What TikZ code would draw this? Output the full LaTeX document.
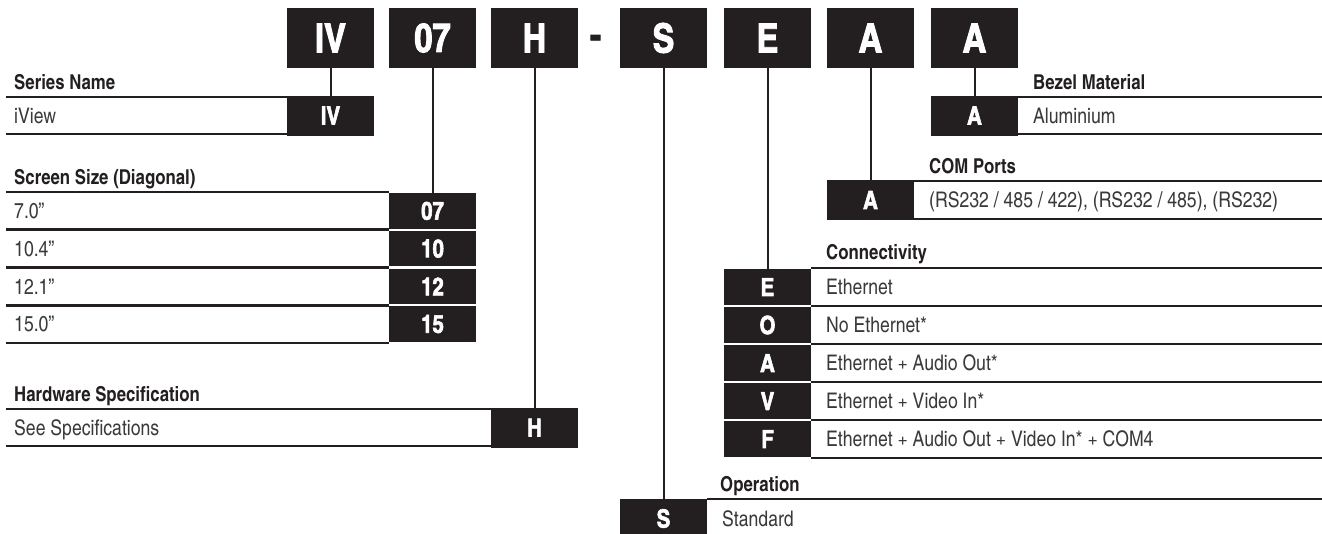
\documentclass[tikz,border=0pt]{standalone}
\usepackage{fontspec}
\setmainfont{texgyreheroscn}[Extension=.otf,UprightFont=*-regular,BoldFont=*-bold]
\newfontfamily\codefamily{texgyreheroscn-bold.otf}[FakeBold=2.2]
\usetikzlibrary{positioning}

\definecolor{ink}{HTML}{231F20}
\definecolor{entrygrey}{HTML}{3A3A3A}
\newcommand{\bigcode}{\fontsize{40}{40}\selectfont\codefamily}
\newcommand{\smallcode}{\fontsize{25}{25}\selectfont\codefamily}
\newcommand{\hdfont}{\fontsize{20.5}{20.5}\selectfont\bfseries}
\newcommand{\entryfont}{\fontsize{21.5}{21.5}\selectfont}

\begin{document}
\begin{tikzpicture}[x=1pt,y=-1pt,node distance=15pt,
    topbox/.style={fill=ink,text=white,font=\bigcode,minimum width=87pt,minimum height=60pt,inner sep=0pt,outer sep=0pt},
    codebox/.style={fill=ink,text=white,font=\smallcode,minimum width=87pt,minimum height=35.5pt,inner sep=0pt,outer sep=0pt},
    heading/.style={font=\hdfont,text=ink,inner sep=0pt,text height=14.7pt,text depth=0pt,anchor=west},
    entry/.style={font=\entryfont,text=entrygrey,inner sep=0pt,text height=15.4pt,text depth=0pt,anchor=west},
    rule/.style={draw=ink,line width=2.6pt},
    link/.style={draw=ink,line width=2pt}]
	\useasboundingbox (0,0) rectangle (1322,533);

	% the order code
	\node[topbox] (t_iv) at (330.5,38) {IV};
	\node[topbox] [right=of t_iv] (t_07) {07};
	\node[topbox] [right=of t_07] (t_h) {H};
	\node[font=\bigcode,text=ink,inner sep=0pt] (t_dash) at (595.5,42) {-};
	\node[topbox] (t_s) at (663.5,38) {S};
	\node[topbox] [right=17pt of t_s] (t_e) {E};
	\node[topbox] [right=16pt of t_e] (t_a) {A};
	\node[topbox] [right=17pt of t_a] (t_b) {A};

	% left side
	\node[heading] (h_series) at (14,82) {Series Name};
	\node[codebox,minimum height=40pt] (c_iv) at (t_iv |- 0,115.5) {IV};
	\node[entry] (e_iview) at (14,115.5) {iView};

	\node[heading] (h_screen) at (14,177) {Screen Size (Diagonal)};
	\node[codebox] (c_07) at (t_07 |- 0,210.9) {07};
	\node[codebox] (c_10) at (t_07 |- 0,248.6) {10};
	\node[codebox] (c_12) at (t_07 |- 0,286.4) {12};
	\node[codebox] (c_15) at (t_07 |- 0,324.1) {15};
	\node[entry] (e_07) at (14,210.9) {7.0”};
	\node[entry] (e_10) at (14,248.6) {10.4”};
	\node[entry] (e_12) at (14,286.4) {12.1”};
	\node[entry] (e_15) at (14,324.1) {15.0”};

	\node[heading] (h_hw) at (14,394) {Hardware Specification};
	\node[codebox,minimum height=40pt] (c_h) at (t_h |- 0,427.5) {H};
	\node[entry] (e_spec) at (14,427.5) {See Specifications};

	% right side
	\node[heading] (h_bezel) at (1033,82) {Bezel Material};
	\node[codebox,minimum height=40pt] (c_bz) at (t_b |- 0,115.5) {A};
	\node[entry] [right=of c_bz] (e_alu) {Aluminium};

	\node[heading] (h_com) at (929,166) {COM Ports};
	\node[codebox,minimum height=40pt] (c_com) at (t_a |- 0,200) {A};
	\node[entry] [right=of c_com] (e_com) {(RS232 / 485 / 422), (RS232 / 485), (RS232)};

	\node[heading] (h_conn) at (826,252) {Connectivity};
	\node[codebox] (c_e) at (t_e |- 0,287) {E};
	\node[codebox] (c_o) at (t_e |- 0,325) {O};
	\node[codebox] (c_av) at (t_e |- 0,363) {A};
	\node[codebox] (c_v) at (t_e |- 0,401) {V};
	\node[codebox] (c_f) at (t_e |- 0,439) {F};
	\node[entry] [right=of c_e] (e_eth) {Ethernet};
	\node[entry] [right=of c_o] (e_noeth) {No Ethernet*};
	\node[entry] [right=of c_av] (e_audio) {Ethernet + Audio Out*};
	\node[entry] [right=of c_v] (e_video) {Ethernet + Video In*};
	\node[entry] [right=of c_f] (e_full) {Ethernet + Audio Out + Video In* + COM4};

	\node[heading] (h_oper) at (720,484) {Operation};
	\node[codebox,minimum height=40pt] (c_s) at (t_s |- 0,518.5) {S};
	\node[entry] [right=of c_s] (e_std) {Standard};

	% table rules
	\draw[rule] (6,97) -- (c_iv.west |- 0,97) (6,134) -- (c_iv.west |- 0,134);
	\draw[rule] (6,192) -- (c_07.west |- 0,192) (6,229.75) -- (c_10.west |- 0,229.75)
		(6,267.5) -- (c_12.west |- 0,267.5) (6,305.25) -- (c_15.west |- 0,305.25)
		(6,343) -- (c_15.west |- 0,343);
	\draw[rule] (6,409) -- (c_h.west |- 0,409) (6,446) -- (c_h.west |- 0,446);
	\draw[rule] (c_bz.east |- 0,97) -- (1322,97) (c_bz.east |- 0,134) -- (1322,134);
	\draw[rule] (c_com.east |- 0,181) -- (1322,181) (c_com.east |- 0,219) -- (1322,219);
	\draw[rule] (c_e.east |- 0,268) -- (1322,268) (c_e.east |- 0,306) -- (1322,306)
		(c_av.east |- 0,344) -- (1322,344) (c_v.east |- 0,382) -- (1322,382)
		(c_f.east |- 0,420) -- (1322,420) (c_f.east |- 0,458) -- (1322,458);
	\draw[rule] (c_s.east |- 0,499) -- (1322,499);

	% code letters down to their tables
	\path[link]
		(t_iv.south) edge (c_iv.north)
		(t_07.south) edge (c_07.north)
		(t_h.south) edge (c_h.north)
		(t_s.south) edge (c_s.north)
		(t_e.south) edge (c_e.north)
		(t_a.south) edge (c_com.north)
		(t_b.south) edge (c_bz.north);
\end{tikzpicture}
\end{document}
